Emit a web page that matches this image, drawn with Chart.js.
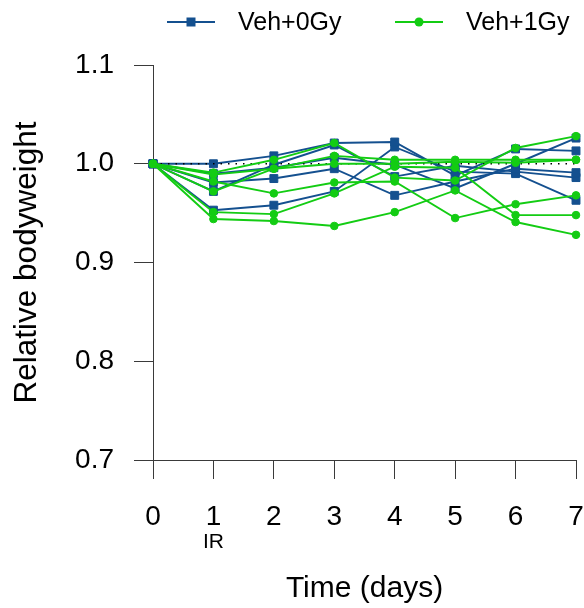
<!DOCTYPE html>
<html>
<head>
<meta charset="utf-8">
<script src="https://cdn.jsdelivr.net/npm/chart.js@4.4.1/dist/chart.umd.min.js"></script>
<style>
  html, body { margin: 0; padding: 0; background: #ffffff; }
  #wrap { width: 584px; height: 608px; position: relative; }
</style>
</head>
<body>
<div id="wrap"><canvas id="c" width="584" height="608"></canvas></div>
<script>
// ---- data ----
const days = [0, 1, 2, 3, 4, 5, 6, 7];
const xTickLabels = ['0', '1', '2', '3', '4', '5', '6', '7'];
const yTickValues = [0.7, 0.8, 0.9, 1.0, 1.1];
const irLabel = 'IR';
const irDay = 1;
const seriesNames = ['Veh+0Gy', 'Veh+1Gy'];
const xTitle = 'Time (days)';
const yTitle = 'Relative bodyweight';

// Veh+0Gy animals
const veh0Gy_a = [1, 1.000, 1.008, 1.021, 1.022, 0.988, 1.015, 1.013];
const veh0Gy_b = [1, 0.990, 0.996, 1.006, 0.999, 0.975, 1.000, 1.026];
const veh0Gy_c = [1, 0.981, 0.985, 0.995, 0.968, 0.982, 0.995, 0.991];
const veh0Gy_d = [1, 0.972, 0.999, 1.019, 0.987, 0.998, 0.992, 0.986];
const veh0Gy_e = [1, 0.953, 0.958, 0.972, 1.017, 0.992, 0.990, 0.963];

// Veh+1Gy animals
const veh1Gy_a = [1, 0.944, 0.942, 0.937, 0.951, 0.973, 0.941, 0.928];
const veh1Gy_b = [1, 0.951, 0.949, 0.970, 0.997, 0.996, 0.948, 0.948];
const veh1Gy_c = [1, 0.982, 0.970, 0.981, 0.982, 0.945, 0.959, 0.968];
const veh1Gy_d = [1, 0.991, 1.004, 1.021, 0.986, 0.983, 1.016, 1.028];
const veh1Gy_e = [1, 0.972, 0.995, 1.008, 1.004, 1.004, 1.004, 1.004];
const veh1Gy_f = [1, 0.989, 0.995, 1.000, 1.000, 1.002, 1.001, 1.004];

// reference (baseline) line
const baseline = [1, 1, 1, 1, 1, 1, 1, 1];

// ---- styles ----
const BLUE = '#14508f';
const GREEN = '#13cc13';
const FONT = '"Liberation Sans", Arial, Helvetica, sans-serif';
const AXIS = '#3a3a3a';

const veh0 = [veh0Gy_a, veh0Gy_b, veh0Gy_c, veh0Gy_d, veh0Gy_e];
const veh1 = [veh1Gy_a, veh1Gy_b, veh1Gy_c, veh1Gy_d, veh1Gy_e, veh1Gy_f];

function pts(vals) { return days.map((d, i) => ({ x: d, y: vals[i] })); }

const datasets = [];
veh0.forEach((v, i) => datasets.push({
  label: seriesNames[0], data: pts(v), borderColor: BLUE, backgroundColor: BLUE,
  borderWidth: 1.9, pointStyle: 'rect', pointRadius: 5.6, pointBorderWidth: 1,
  pointBorderColor: BLUE, pointBackgroundColor: BLUE, tension: 0, order: 3, clip: false
}));
datasets.push({
  label: 'baseline', data: pts(baseline), borderColor: '#000000', borderWidth: 1.4,
  borderDash: [1.5, 6], pointRadius: 0, order: 2, clip: false
});
veh1.forEach((v, i) => datasets.push({
  label: seriesNames[1], data: pts(v), borderColor: GREEN, backgroundColor: GREEN,
  borderWidth: 1.9, pointStyle: 'circle', pointRadius: 3.8, pointBorderWidth: 1,
  pointBorderColor: GREEN, pointBackgroundColor: GREEN, tension: 0, order: 1, clip: false
}));

// custom legend + IR annotation
const extrasPlugin = {
  id: 'extras',
  afterDraw(chart) {
    const ctx = chart.ctx;
    const xs = chart.scales.x;
    ctx.save();
    ctx.fillStyle = '#000';
    ctx.font = '21px ' + FONT;
    ctx.textAlign = 'center';
    ctx.textBaseline = 'middle';
    ctx.fillText(irLabel, xs.getPixelForValue(irDay), 542);

    const cy = 22;
    const items = [
      { text: seriesNames[0], color: BLUE, style: 'rect', x0: 167 },
      { text: seriesNames[1], color: GREEN, style: 'circle', x0: 395 }
    ];
    items.forEach(it => {
      ctx.strokeStyle = it.color;
      ctx.fillStyle = it.color;
      ctx.lineWidth = 1.8;
      ctx.beginPath();
      ctx.moveTo(it.x0, cy);
      ctx.lineTo(it.x0 + 48, cy);
      ctx.stroke();
      const mx = it.x0 + 24;
      if (it.style === 'rect') {
        ctx.fillRect(mx - 4.5, cy - 4.5, 9, 9);
      } else {
        ctx.beginPath();
        ctx.arc(mx, cy, 4.5, 0, Math.PI * 2);
        ctx.fill();
      }
      ctx.fillStyle = '#000';
      ctx.font = '25px ' + FONT;
      ctx.textAlign = 'left';
      ctx.textBaseline = 'middle';
      ctx.fillText(it.text, it.x0 + 71, cy + 1);
    });
    ctx.restore();
  }
};

new Chart(document.getElementById('c'), {
  type: 'line',
  data: { datasets },
  options: {
    responsive: false,
    animation: false,
    devicePixelRatio: 1,
    layout: { padding: { top: 65, right: 8, left: 0, bottom: 0 } },
    plugins: {
      legend: { display: false },
      tooltip: { enabled: false },
      title: { display: false }
    },
    scales: {
      x: {
        type: 'linear',
        min: days[0], max: days[days.length - 1],
        afterFit(s) { s.height = 148; s.paddingRight = 0; s.paddingLeft = 0; },
        afterBuildTicks(s) { s.ticks = days.map(d => ({ value: d })); },
        ticks: {
          color: '#000', padding: 21, maxRotation: 0, autoSkip: false,
          font: { family: FONT, size: 28 },
          callback: (v) => xTickLabels[days.indexOf(v)]
        },
        grid: { drawOnChartArea: false, drawTicks: true, tickLength: 19, color: AXIS, lineWidth: 1 },
        border: { display: true, color: AXIS, width: 1 },
        title: {
          display: true, text: xTitle, color: '#000',
          font: { family: FONT, size: 30 }, padding: { top: 0, bottom: 1 }
        }
      },
      y: {
        type: 'linear',
        min: yTickValues[0], max: yTickValues[yTickValues.length - 1],
        afterFit(s) { s.width = 153; s.paddingTop = 0; s.paddingBottom = 0; },
        afterBuildTicks(s) { s.ticks = yTickValues.map(v => ({ value: v })); },
        ticks: {
          color: '#000', padding: 20,
          font: { family: FONT, size: 28 },
          callback: (v) => Number(v).toFixed(1)
        },
        grid: { drawOnChartArea: false, drawTicks: true, tickLength: 19, color: AXIS, lineWidth: 1 },
        border: { display: true, color: AXIS, width: 1 },
        title: {
          display: true, text: yTitle, color: '#000',
          font: { family: FONT, size: 31.5 }, padding: { top: 8, bottom: 0 }
        }
      }
    }
  },
  plugins: [extrasPlugin]
});
</script>
</body>
</html>
